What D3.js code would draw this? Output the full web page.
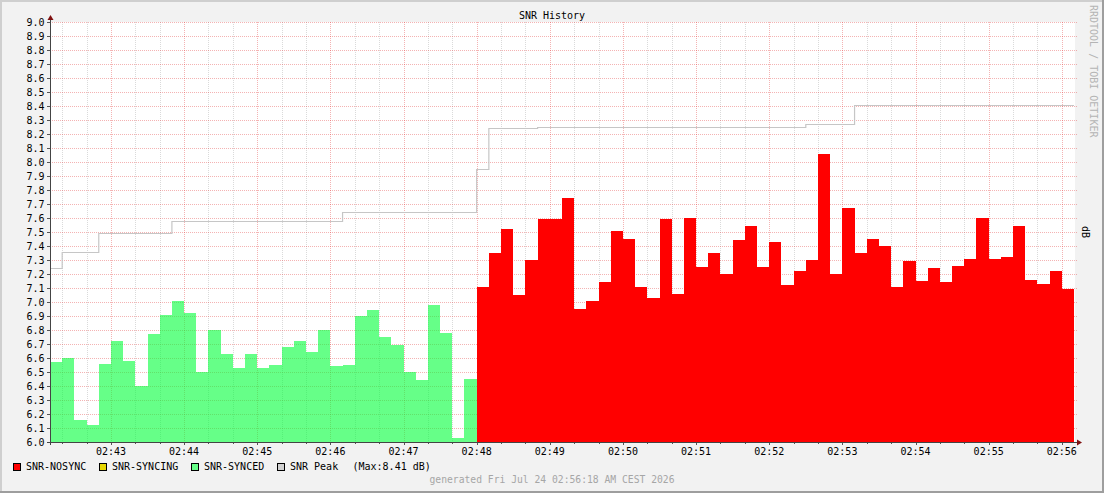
<!DOCTYPE html>
<html>
<head>
<meta charset="utf-8">
<script src="https://cdn.jsdelivr.net/npm/d3@7"></script>
<style>
  html, body { margin: 0; padding: 0; background: #f2f2f2; }
  svg { display: block; }
  text { font-family: "DejaVu Sans Mono", monospace; font-size: 10px; }
</style>
</head>
<body>
<svg id="chart" width="1104" height="493"></svg>
<script>
// ---- data ----
const chartTitle = "SNR History";
const stepSeconds = 10;
const startTime = new Date(2026, 6, 24, 2, 42, 10);
const endTime = new Date(2026, 6, 24, 2, 56, 10);

// SNR-SYNCED samples (first 35 steps)
const syncedSNR = [6.57, 6.60, 6.16, 6.12, 6.56, 6.72, 6.58, 6.40, 6.77, 6.91,
  7.01, 6.92, 6.50, 6.80, 6.63, 6.53, 6.63, 6.53, 6.55, 6.68,
  6.72, 6.64, 6.80, 6.54, 6.55, 6.90, 6.94, 6.75, 6.69, 6.50,
  6.44, 6.98, 6.78, 6.03, 6.45];
// SNR-SYNCING samples (none in this window)
const syncingSNR = [];
// SNR-NOSYNC samples (following 49 steps)
const nosyncSNR = [7.11, 7.35, 7.52, 7.05, 7.30, 7.59, 7.59, 7.74, 6.95, 7.01,
  7.14, 7.51, 7.45, 7.11, 7.03, 7.59, 7.06, 7.60, 7.25, 7.35,
  7.20, 7.44, 7.54, 7.25, 7.43, 7.12, 7.22, 7.30, 8.06, 7.20,
  7.67, 7.35, 7.45, 7.40, 7.11, 7.29, 7.15, 7.24, 7.14, 7.26,
  7.31, 7.60, 7.31, 7.32, 7.54, 7.16, 7.13, 7.22, 7.09];
// SNR Peak per step (84 steps)
const peakSNR = [7.24, 7.36, 7.36, 7.36, 7.49, 7.49, 7.49, 7.49, 7.49, 7.49,
  7.58, 7.58, 7.58, 7.58, 7.58, 7.58, 7.58, 7.58, 7.58, 7.58,
  7.58, 7.58, 7.58, 7.58, 7.64, 7.64, 7.64, 7.64, 7.64, 7.64,
  7.64, 7.64, 7.64, 7.64, 7.64, 7.95, 8.24, 8.24, 8.24, 8.24,
  8.25, 8.25, 8.25, 8.25, 8.25, 8.25, 8.25, 8.25, 8.25, 8.25,
  8.25, 8.25, 8.25, 8.25, 8.25, 8.25, 8.25, 8.25, 8.25, 8.25,
  8.25, 8.25, 8.27, 8.27, 8.27, 8.27, 8.41, 8.41, 8.41, 8.41,
  8.41, 8.41, 8.41, 8.41, 8.41, 8.41, 8.41, 8.41, 8.41, 8.41,
  8.41, 8.41, 8.41, 8.41];
const peakMax = "8.41";
const yTickValues = [6.0, 6.1, 6.2, 6.3, 6.4, 6.5, 6.6, 6.7, 6.8, 6.9, 7.0,
  7.1, 7.2, 7.3, 7.4, 7.5, 7.6, 7.7, 7.8, 7.9, 8.0,
  8.1, 8.2, 8.3, 8.4, 8.5, 8.6, 8.7, 8.8, 8.9, 9.0];
const legendItems = [
  { label: "SNR-NOSYNC", color: "#ff0000" },
  { label: "SNR-SYNCING", color: "#e6d600" },
  { label: "SNR-SYNCED", color: "#66ff88" },
  { label: "SNR Peak", color: "#d0d0d0" }
];
const footerText = "generated Fri Jul 24 02:56:18 AM CEST 2026";
const watermark = "RRDTOOL / TOBI OETIKER";
const yUnit = "dB";

// ---- drawing ----
const W = 1104, H = 493;
const svg = d3.select("#chart");
const L = 50, R = 1074, T = 22, B = 442;

const x = d3.scaleTime().domain([startTime, endTime]).range([L, R]);
const y = d3.scaleLinear().domain([6, 9]).range([B, T]);

// background + frame
svg.append("rect").attr("x", 0).attr("y", 0).attr("width", W).attr("height", H).attr("fill", "#f2f2f2");
svg.append("rect").attr("x", L).attr("y", T).attr("width", R - L + 1).attr("height", B - T).attr("fill", "#ffffff");
svg.append("rect").attr("x", 0).attr("y", 0).attr("width", W).attr("height", 2).attr("fill", "#cfcfcf");
svg.append("rect").attr("x", 0).attr("y", 0).attr("width", 2).attr("height", H).attr("fill", "#cfcfcf");
svg.append("rect").attr("x", 0).attr("y", H - 2).attr("width", W).attr("height", 2).attr("fill", "#9e9e9e");
svg.append("rect").attr("x", W - 2).attr("y", 0).attr("width", 2).attr("height", H).attr("fill", "#9e9e9e");

const tAt = i => d3.timeSecond.offset(startTime, i * stepSeconds);

// grid (behind data)
const majorCol = "rgba(225,45,45,0.36)";
const minorCol = "rgba(140,140,140,0.32)";
const grid = svg.append("g").attr("shape-rendering", "crispEdges");
const ticksG = svg.append("g").attr("shape-rendering", "crispEdges");
const minorTimes = d3.timeSecond.every(20).range(startTime, d3.timeSecond.offset(endTime, 1));
minorTimes.forEach(t => {
  const isMajor = t.getSeconds() === 0;
  const px = Math.round(x(t)) + 0.5;
  if (px <= L + 1) return;
  grid.append("line").attr("x1", px).attr("x2", px).attr("y1", T).attr("y2", B)
    .attr("stroke", isMajor ? majorCol : minorCol).attr("stroke-dasharray", "1,1");
  ticksG.append("line").attr("x1", px).attr("x2", px).attr("y1", B).attr("y2", B + (isMajor ? 3 : 2))
    .attr("stroke", "#555");
});
yTickValues.forEach(v => {
  const py = Math.round(y(v)) + 0.5;
  grid.append("line").attr("x1", L).attr("x2", R + 3).attr("y1", py).attr("y2", py)
    .attr("stroke", majorCol).attr("stroke-dasharray", "1,1");
  ticksG.append("line").attr("x1", L - 3).attr("x2", L).attr("y1", py).attr("y2", py)
    .attr("stroke", "#555");
});

// series areas (step areas)
function seriesPts(values, offset) {
  const pts = values.map((v, k) => ({ t: tAt(offset + k), v }));
  if (values.length) pts.push({ t: tAt(offset + values.length), v: values[values.length - 1] });
  return pts;
}
const area = d3.area().x(d => x(d.t)).y0(y(6)).y1(d => y(d.v)).curve(d3.curveStepAfter);
const syncedPts = seriesPts(syncedSNR, 0);
const syncingPts = seriesPts(syncingSNR, syncedSNR.length);
const nosyncPts = seriesPts(nosyncSNR, syncedSNR.length + syncingSNR.length);

svg.append("path").datum(syncedPts).attr("d", area)
  .attr("fill", "rgb(0,255,57)").attr("fill-opacity", 0.6).attr("shape-rendering", "crispEdges");
if (syncingPts.length) svg.append("path").datum(syncingPts).attr("d", area)
  .attr("fill", legendItems[1].color).attr("shape-rendering", "crispEdges");
svg.append("path").datum(nosyncPts).attr("d", area)
  .attr("fill", legendItems[0].color).attr("shape-rendering", "crispEdges");

// peak line
const peakPts = seriesPts(peakSNR, 0);
svg.append("path").datum(peakPts)
  .attr("d", d3.line().x(d => x(d.t)).y(d => Math.round(y(d.v)) + 0.5).curve(d3.curveStepAfter))
  .attr("fill", "none").attr("stroke", "#c6c6c6").attr("stroke-width", 1.2);

// axes lines
svg.append("line").attr("x1", L + 0.5).attr("x2", L + 0.5).attr("y1", 18).attr("y2", B + 3)
  .attr("stroke", "#444").attr("shape-rendering", "crispEdges");
svg.append("line").attr("x1", L - 3).attr("x2", R + 4).attr("y1", B + 0.5).attr("y2", B + 0.5)
  .attr("stroke", "#444").attr("shape-rendering", "crispEdges");
svg.append("path").attr("d", `M${L + 0.5},15 L${L + 3.5},20 L${L - 2.5},20 Z`).attr("fill", "#7f1010");
svg.append("path").attr("d", `M${R + 8},${B + 0.5} L${R + 3},${B - 2.5} L${R + 3},${B + 3.5} Z`).attr("fill", "#7f1010");

// y labels
svg.append("g").selectAll("text").data(yTickValues).join("text")
  .attr("x", 44.5).attr("y", v => y(v) + 3.5)
  .attr("text-anchor", "end").attr("fill", "#000")
  .text(v => d3.format(".1f")(v));

// x labels using the time axis ticks
const xTicks = x.ticks(d3.timeMinute.every(1));
const fmt = d3.timeFormat("%H:%M");
svg.append("g").selectAll("text").data(xTicks).join("text")
  .attr("x", t => x(t)).attr("y", 455)
  .attr("text-anchor", "middle").attr("fill", "#000")
  .text(t => fmt(t));

// title
svg.append("text").attr("x", 552).attr("y", 19).attr("text-anchor", "middle").attr("fill", "#000").text(chartTitle);

// unit
svg.append("text").attr("transform", `translate(1082,232) rotate(90)`)
  .attr("text-anchor", "middle").attr("fill", "#000").text(yUnit);

// watermark
svg.append("text").attr("transform", `translate(1090,5) rotate(90)`)
  .attr("text-anchor", "start").attr("fill", "#b4b4b4").text(watermark);

// legend
const legendX = [13.5, 99.5, 191.5, 277.5];
const lg = svg.append("g");
legendItems.forEach((it, k) => {
  lg.append("rect").attr("x", legendX[k]).attr("y", 463.5).attr("width", 7).attr("height", 7)
    .attr("fill", it.color).attr("stroke", "#000").attr("stroke-width", 1).attr("shape-rendering", "crispEdges");
  lg.append("text").attr("x", legendX[k] + 12.5).attr("y", 470).attr("fill", "#000").text(it.label);
});
lg.append("text").attr("x", 352.5).attr("y", 470).attr("fill", "#000").text(`(Max:${peakMax} dB)`);

// footer
svg.append("text").attr("x", 552).attr("y", 483).attr("text-anchor", "middle")
  .attr("fill", "#a6a6a6").style("font-size", "9.7px").text(footerText);
</script>
</body>
</html>
